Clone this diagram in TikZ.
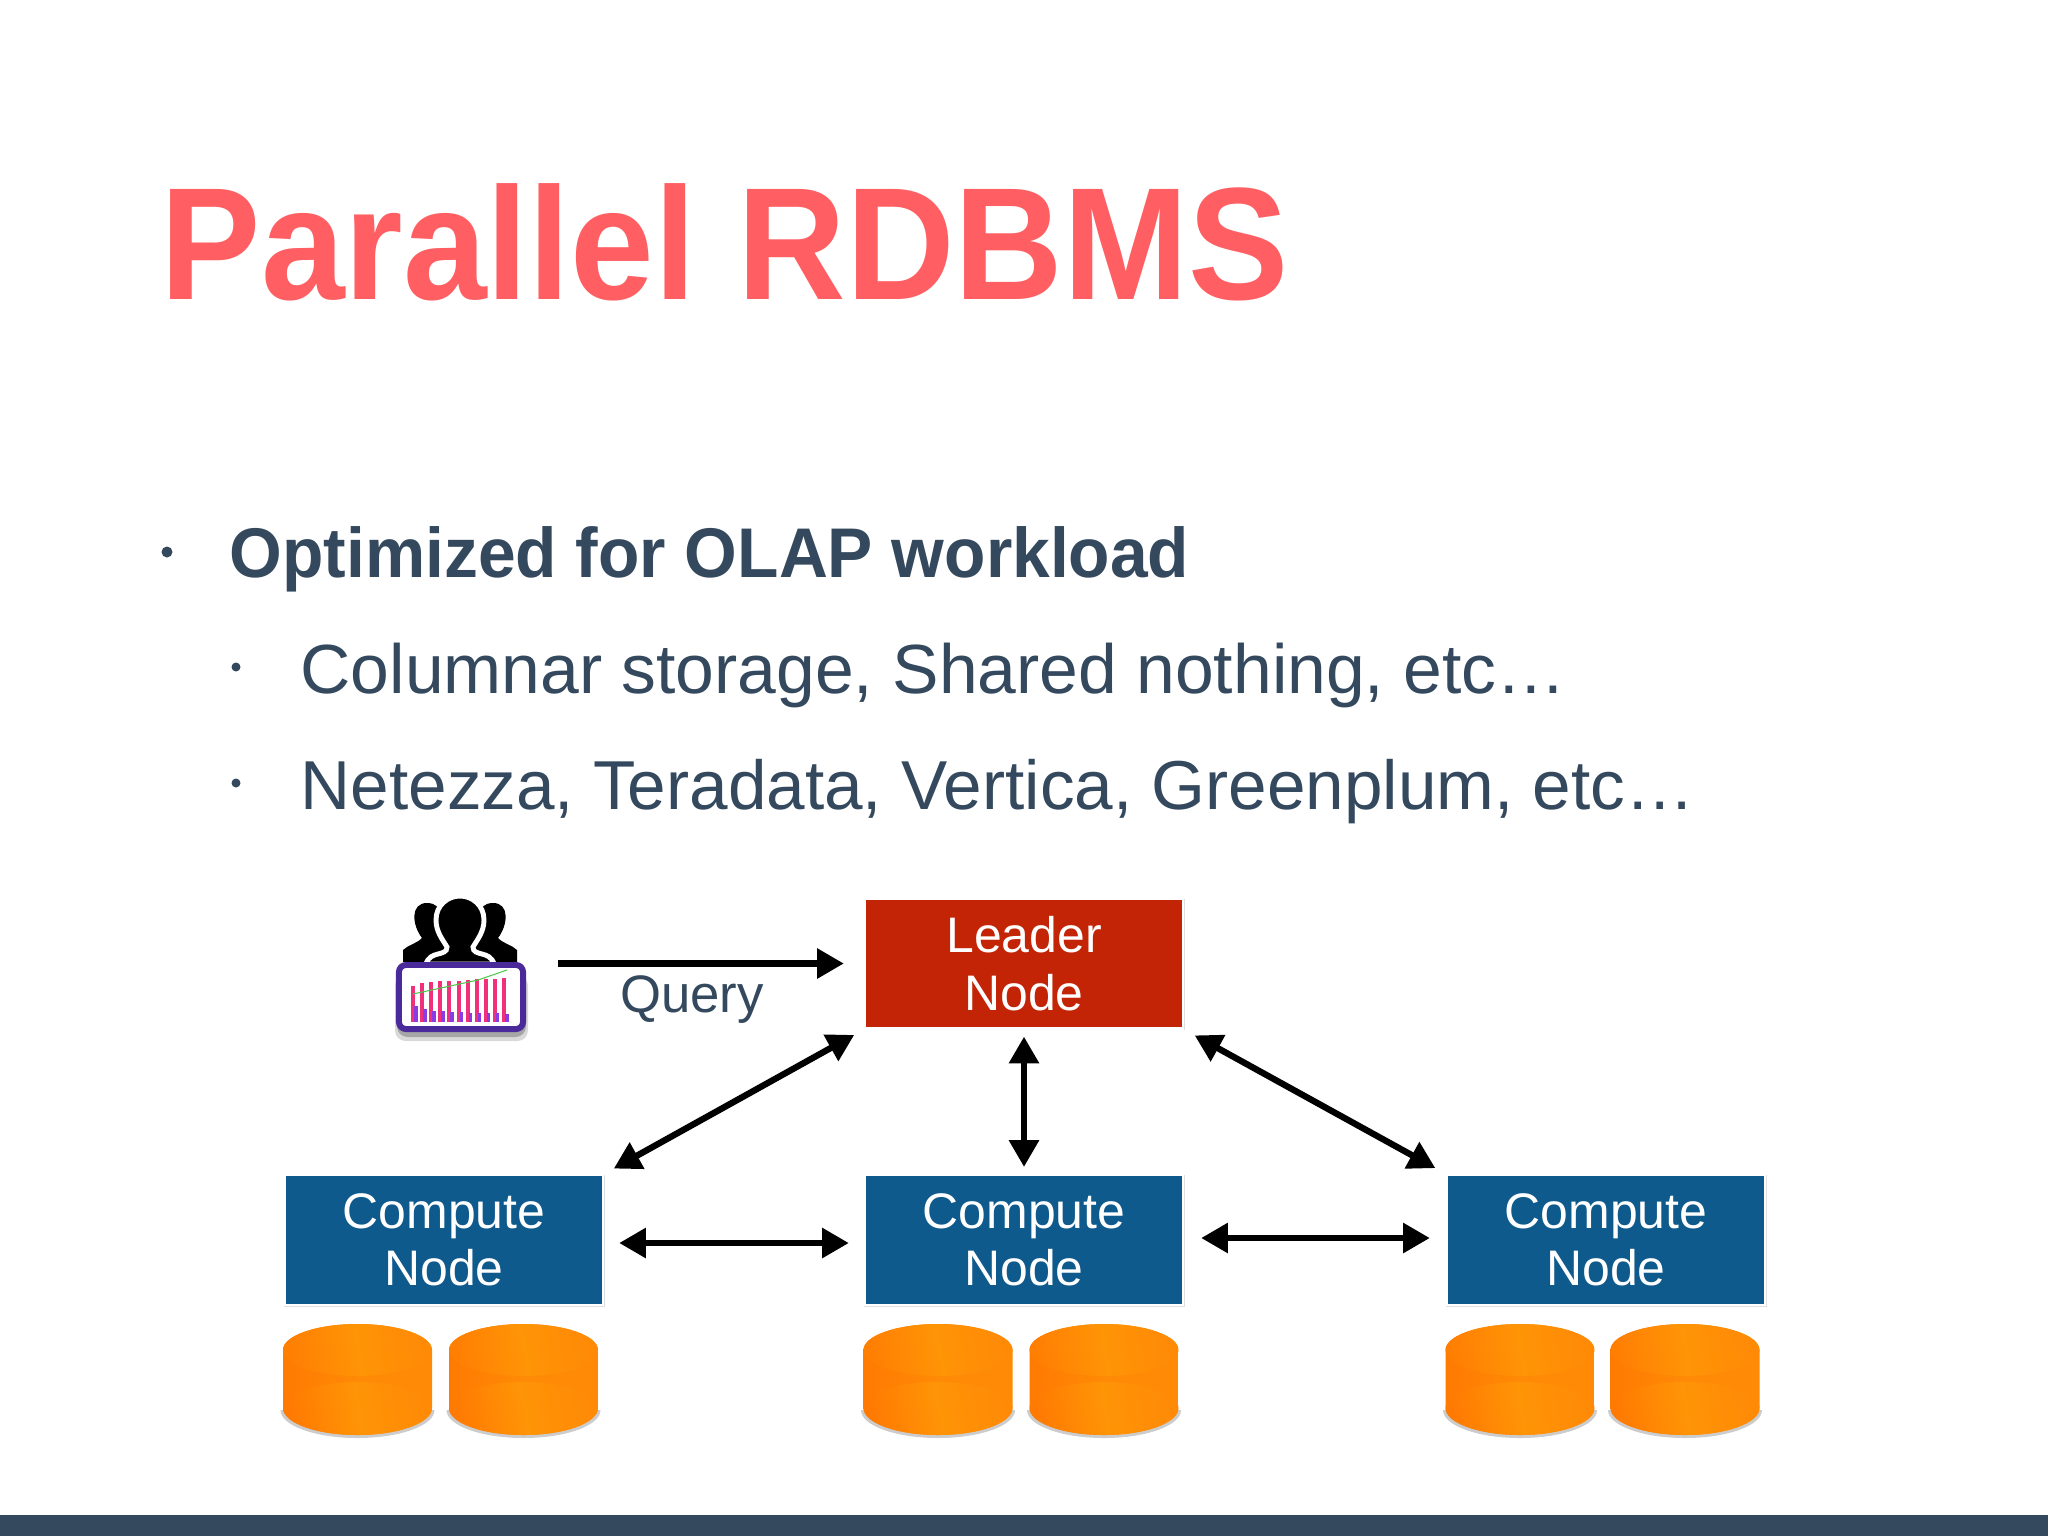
\documentclass[tikz,border=0pt]{standalone}
\usepackage{fontspec}
\setmainfont{Liberation Sans}
\usetikzlibrary{arrows.meta,shadows}
\definecolor{titlered}{HTML}{FF5F63}
\definecolor{slate}{HTML}{34495E}
\definecolor{leaderred}{HTML}{C42406}
\definecolor{computeblue}{HTML}{0F5A8C}
\definecolor{reportpurple}{HTML}{4A2A9A}
\definecolor{barpink}{HTML}{F0307A}
\definecolor{barpurple}{HTML}{8A3CE0}
\definecolor{diskdark}{HTML}{FF7A02}
\definecolor{diskmid}{HTML}{FF9406}
\definecolor{diskside}{HTML}{FF8A06}
\tikzset{
  box/.style={draw=white,line width=0.6pt,inner sep=0pt,text=white,align=center,
    minimum width=3.18cm,minimum height=1.30cm,
    font=\fontsize{14.2}{16.3}\selectfont,
    drop shadow={shadow xshift=0.2pt,shadow yshift=-0.3pt,shadow scale=1.01,opacity=0.25}},
  leader/.style={box,fill=leaderred},
  compute/.style={box,fill=computeblue},
  tip/.style={line width=1.8pt},
  link/.style={tip,{Triangle[length=7.6pt,width=8.2pt]}-{Triangle[length=7.6pt,width=8.2pt]}},
  body/.style={anchor=base west,text=slate,inner sep=0pt}
}
\newcommand{\drawdisk}[1]{
  \fill[black!20] (#1-77,1410) arc[start angle=180,end angle=0,x radius=77,y radius=28] -- cycle;
  \shade[left color=diskdark,right color=diskside,middle color=diskside]
    (#1-74.5,1350) arc[start angle=180,end angle=360,x radius=74.5,y radius=26]
    -- (#1+74.5,1408) arc[start angle=0,end angle=180,x radius=74.5,y radius=27] -- cycle;
  \shade[left color=diskdark!70!diskside,right color=diskside,middle color=diskmid,shading angle=100]
    (#1,1350) ellipse [x radius=74.5,y radius=26];
  \shade[left color=diskdark,right color=diskside,middle color=diskmid,shading angle=100]
    (#1-74.5,1408) arc[start angle=180,end angle=360,x radius=74.5,y radius=26]
    arc[start angle=0,end angle=180,x radius=74.5,y radius=27];
}
\begin{document}
\begin{tikzpicture}[x=0.01cm,y=-0.01cm]
\useasboundingbox (0,0) rectangle (2048,1536);
\fill[white] (0,0) rectangle (2048,1536);
\fill[slate] (0,1515) rectangle (2048,1536);
% title and bullets
\node[anchor=base west,inner sep=0pt,text=titlered,font=\fontsize{45.5}{50}\selectfont\bfseries] (title) at (160,299) {\scalebox{0.94}[1]{Parallel RDBMS}};
\node[body,font=\fontsize{20}{24}\selectfont\bfseries] (olap) at (229,577) {\scalebox{0.963}[1]{Optimized for OLAP workload}};
\node[body,font=\fontsize{19.8}{24}\selectfont] (columnar) at (300,693) {Columnar storage, Shared nothing, etc…};
\node[body,font=\fontsize{19.7}{24}\selectfont] (netezza) at (300,809) {Netezza, Teradata, Vertica, Greenplum, etc…};
\fill[slate] (167,552) circle (5.5);
\fill[slate] (236,667) circle (4.5);
\fill[slate] (236,783) circle (4.5);
% the users
\foreach \s in {1,-1} {
  \fill[black] (460-\s*57,962) -- (460-\s*57,950) .. controls (460-\s*52,945) and (460-\s*44,944) .. (460-\s*38,938)
    .. controls (460-\s*48,925) and (460-\s*50,903) .. (460-\s*33,903)
    .. controls (460-\s*15,903) and (460-\s*15,925) .. (460-\s*15,940) -- (460,962) -- cycle;
}
\fill[black,draw=white,line width=1.4pt] (426,964) .. controls (430,950) and (447,957) .. (447,947)
  .. controls (443,940) and (436,932) .. (436,920)
  .. controls (436,905) and (448,896) .. (460,896)
  .. controls (472,896) and (484,905) .. (484,920)
  .. controls (484,932) and (477,940) .. (473,947)
  .. controls (473,957) and (490,950) .. (494,964) -- cycle;
% the report
\fill[black!15,rounded corners=3pt] (395,975) rectangle (528,1041);
\fill[black!35,rounded corners=3pt] (397,975) rectangle (526,1037);
\node[draw=reportpurple,fill=white,line width=1.7pt,rounded corners=2pt,minimum width=1.24cm,minimum height=0.64cm,inner sep=0pt] (report) at (461,997) {};
\foreach \n/\a/\b in {0/986/1006,1/983/1009,2/982/1011,3/981/1011,4/981/1012,5/981/1012,6/980/1013,7/979/1013,8/979/1013,9/979/1013,10/978/1014} {
  \fill[barpink] (411+\n*9.1,\a) rectangle (415+\n*9.1,1022);
  \fill[barpurple] (414+\n*9.1,\b) rectangle (417.5+\n*9.1,1022);
}
\draw[green!70!black!70,line width=0.3pt] (413,994) -- (478,980) -- (507,970);
% the nodes
\node[leader] (lead) at (1024,963.5) {Leader\\Node};
\node[compute] (comp1) at (444,1240) {Compute\\Node};
\node[compute] (comp2) at (1024,1240) {Compute\\Node};
\node[compute] (comp3) at (1606,1240) {Compute\\Node};
% arrows
\coordinate (qstart) at (558,963.5);
\draw[tip,-{Triangle[length=7.6pt,width=8.2pt]},shorten >=2mm] (qstart) -- (lead.west);
\node[text=slate,inner sep=0pt,font=\fontsize{15}{18}\selectfont] (query) at (692,1000) {Query};
\draw[link,shorten >=1.1mm,shorten <=1.1mm] (comp1.north east) -- (lead.south west);
\draw[link,shorten >=0.7mm,shorten <=0.7mm] (lead.south) -- (comp2.north);
\draw[link,shorten >=1.2mm,shorten <=1.2mm] (lead.south east) -- (comp3.north west);
\draw[link,shorten >=1.5mm,shorten <=1.5mm] ([yshift=-0.3mm]comp1.east) -- ([yshift=-0.3mm]comp2.west);
\draw[link,shorten >=1.6mm,shorten <=1.7mm] ([yshift=0.2mm]comp2.east) -- ([yshift=0.2mm]comp3.west);
% the disks
\foreach \c in {357.5,523.5,938,1104,1520,1685} {
  \drawdisk{\c}
}
\end{tikzpicture}
\end{document}
